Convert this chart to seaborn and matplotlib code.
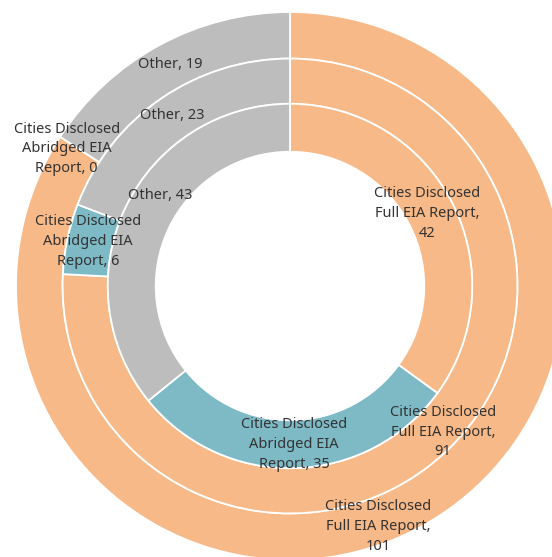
import matplotlib
matplotlib.use("Agg")
import matplotlib.pyplot as plt
import seaborn as sns

sns.set_theme(style="white")
plt.rcParams["font.family"] = ["Noto Sans", "DejaVu Sans"]

# Disclosure categories, drawn clockwise from 12 o'clock in each ring
categories = ["Full EIA Report", "Abridged EIA Report", "Other"]
label_templates = [
    "Cities Disclosed\nFull EIA Report,\n{}",
    "Cities Disclosed\nAbridged EIA\nReport, {}",
    "Other, {}",
]

# Number of cities per category, one list per ring (outer -> inner)
outer_values = [101, 0, 19]
middle_values = [91, 6, 23]
inner_values = [42, 35, 43]

colors = ["#F7B987", "#7DBAC6", "#BDBDBD"]
text_color = "#333333"

# Ring geometry: (outer radius, ring width)
rings = [
    (outer_values, 1.0, 0.17),
    (middle_values, 0.83, 0.165),
    (inner_values, 0.665, 0.175),
]

# Where each ring's labels sit (data coordinates), per category
label_positions = [
    [(0.321, -0.878), (-0.815, 0.500), (-0.438, 0.810)],
    [(0.558, -0.533), (-0.738, 0.162), (-0.430, 0.622)],
    [(0.500, 0.263), (0.015, -0.578), (-0.474, 0.330)],
]

fig = plt.figure(figsize=(5.52, 5.57), dpi=100)
ax = fig.add_axes([0, 0, 1, 1])

for (values, radius, width), positions in zip(rings, label_positions):
    ax.pie(
        values,
        radius=radius,
        colors=colors,
        startangle=90,
        counterclock=False,
        wedgeprops=dict(width=width, edgecolor="white", linewidth=1.3),
    )
    for template, value, (x, y) in zip(label_templates, values, positions):
        ax.text(x, y, template.format(value), ha="center", va="center",
                fontsize=10.5, fontweight="medium", color=text_color,
                linespacing=1.45)

# Center the rings so the outer band runs past the right and bottom edges
scale = 274.0
cx, cy = 290.0, 286.0
ax.set_xlim(-cx / scale, (552 - cx) / scale)
ax.set_ylim(-(557 - cy) / scale, cy / scale)
ax.set_aspect("auto")
ax.axis("off")

fig.savefig("out.png", dpi=100, facecolor="white")
